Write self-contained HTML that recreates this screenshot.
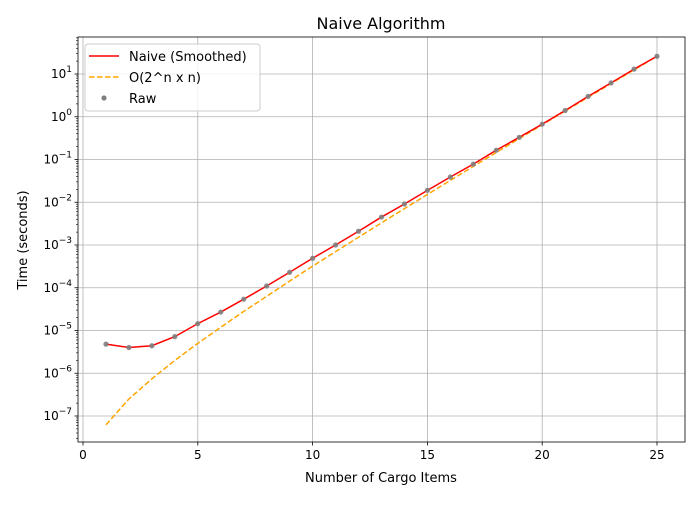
<!DOCTYPE html>
<html><head><meta charset="utf-8"><style>
body{margin:0;background:#fff;}
svg text{font-family:"DejaVu Sans","Liberation Sans",sans-serif;fill:#000;}
</style></head><body>
<svg id="chart" width="700" height="500" xmlns="http://www.w3.org/2000/svg">
<rect width="700" height="500" fill="#fff"/>
<text x="381" y="29" font-size="16" text-anchor="middle">Naive Algorithm</text>
<g id="grid"></g>
<g id="series"></g>
<g id="axes"></g>
<text x="381" y="482" font-size="13" text-anchor="middle">Number of Cargo Items</text>
<text transform="translate(27,240) rotate(-90)" font-size="13" text-anchor="middle">Time (seconds)</text>
<g>
<rect x="85" y="44" width="175" height="67" rx="3" fill="#fff" fill-opacity="0.8" stroke="#ccc"/>
<line x1="89" y1="56" x2="119" y2="56" stroke="red" stroke-width="1.5"/>
<text x="129" y="61" font-size="13">Naive (Smoothed)</text>
<line x1="89" y1="77" x2="119" y2="77" stroke="orange" stroke-width="1.5" stroke-dasharray="5.5,2.5"/>
<text x="129" y="82" font-size="13">O(2^n x n)</text>
<circle cx="104" cy="98" r="2.6" fill="gray"/>
<text x="129" y="103" font-size="13">Raw</text>
</g>
</svg>
<script>
const nValues=[1,2,3,4,5,6,7,8,9,10,11,12,13,14,15,16,17,18,19,20,21,22,23,24,25];
const rawTimes=[4.8e-6,4.0e-6,4.4e-6,7.2e-6,1.45e-5,2.7e-5,5.4e-5,1.1e-4,2.3e-4,4.9e-4,1.0e-3,2.1e-3,4.5e-3,9.1e-3,0.019,0.039,0.078,0.165,0.33,0.67,1.4,3.0,6.2,13,26];
const smoothTimes=[4.8e-6,4.0e-6,4.4e-6,7.2e-6,1.45e-5,2.7e-5,5.4e-5,1.1e-4,2.3e-4,4.9e-4,1.0e-3,2.1e-3,4.5e-3,9.1e-3,0.019,0.039,0.078,0.165,0.33,0.67,1.4,3.0,6.2,13,26];
const bigOTimes=[6.2e-8,2.5e-7,7.4e-7,2.0e-6,5.0e-6,1.19e-5,2.8e-5,6.3e-5,1.43e-4,3.2e-4,7.0e-4,1.52e-3,3.3e-3,7.1e-3,0.0152,0.0325,0.069,0.146,0.309,0.65,1.37,2.86,5.98,12.5,26];
const xTicks=[0,5,10,15,20,25];
const yTickExps=[-7,-6,-5,-4,-3,-2,-1,0,1];
const L=78,R=685,T=37,B=442;
const NS="http://www.w3.org/2000/svg";
const xs=v=>83+v*22.96;
const ys=v=>74-(Math.log10(v)-1)*42.75;
function mk(tag,attrs,parent){const e=document.createElementNS(NS,tag);for(const k in attrs)e.setAttribute(k,attrs[k]);parent.appendChild(e);return e;}
const grid=document.getElementById('grid'),axes=document.getElementById('axes'),ser=document.getElementById('series');
xTicks.forEach(t=>{const x=xs(t);
 const g=mk('line',{x1:x,x2:x,y1:T,y2:B,stroke:'#b0b0b0','stroke-width':0.8},grid);
 
 
 mk('line',{x1:x,x2:x,y1:B,y2:B+3.5,stroke:'#000','stroke-width':0.8},axes);
 const tx=mk('text',{x:x,y:B+17,'font-size':12,'text-anchor':'middle'},axes);tx.textContent=t;
 
 
});
for(let e=-8;e<=1;e++){for(let m=2;m<=9;m++){const y=ys(m*Math.pow(10,e));if(y>T&&y<B)mk('line',{x1:L-2,x2:L,y1:y,y2:y,stroke:'#000','stroke-width':0.6},axes);}}
yTickExps.forEach(e=>{const y=ys(Math.pow(10,e));
 const g=mk('line',{x1:L,x2:R,y1:y,y2:y,stroke:'#b0b0b0','stroke-width':0.8},grid);
 
 
 mk('line',{x1:L-3.5,x2:L,y1:y,y2:y,stroke:'#000','stroke-width':0.8},axes);
 const tx=mk('text',{x:L-6,y:y+4,'font-size':12,'text-anchor':'end'},axes);
 
 
 tx.appendChild(document.createTextNode('10'));
 const s=mk('tspan',{dy:-6,'font-size':9},tx);s.textContent=e<0?'\u2212'+(-e):String(e);
});
const frame=mk('rect',{x:L,y:T,width:R-L,height:B-T,fill:'none',stroke:'#000','stroke-width':0.8},axes);


const bo=mk('polyline',{points:nValues.map((n,i)=>xs(n)+','+ys(bigOTimes[i])).join(' '),fill:'none',stroke:'orange','stroke-width':1.5,'stroke-dasharray':'5.5,2.5'},ser);


const sm=mk('polyline',{points:nValues.map((n,i)=>xs(n)+','+ys(smoothTimes[i])).join(' '),fill:'none',stroke:'red','stroke-width':1.5},ser);


nValues.forEach((n,i)=>{const c=mk('circle',{cx:xs(n),cy:ys(rawTimes[i]),r:2.6,fill:'gray','fill-opacity':0.9},ser);
 
 
});
</script>
</body></html>
